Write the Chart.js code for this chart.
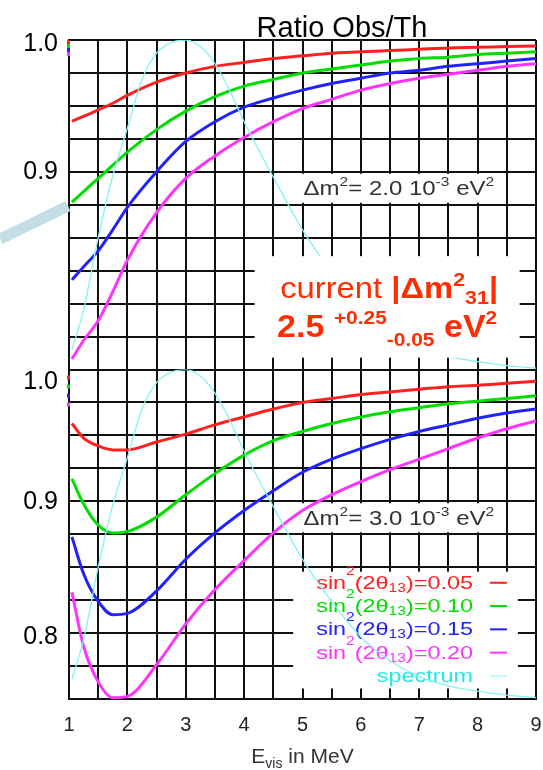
<!DOCTYPE html>
<html>
<head>
<meta charset="utf-8">
<script src="https://cdn.jsdelivr.net/npm/chart.js@4.4.1/dist/chart.umd.min.js"></script>
<style>
  html, body { margin: 0; padding: 0; background: #fff; }
  #wrap { position: relative; width: 543px; height: 770px; }
</style>
</head>
<body>
<div id="wrap"><canvas id="ratio" width="543" height="770"></canvas></div>
<script>
const energies = [1.05, 1.25, 1.5, 1.75, 2, 2.5, 3, 3.5, 4, 4.5, 5, 5.5, 6, 6.5, 7, 7.5, 8, 8.5, 9];
const sinValues = ["0.05", "0.10", "0.15", "0.20"];

// dm2 = 2.0e-3 eV2 (upper panel)
const top005 = [0.9385, 0.942, 0.947, 0.952, 0.958, 0.968, 0.975, 0.980, 0.983, 0.986, 0.988, 0.990, 0.991, 0.992, 0.993, 0.994, 0.9945, 0.995, 0.9955];
const top010 = [0.877, 0.885, 0.895, 0.905, 0.915, 0.932, 0.946, 0.957, 0.965, 0.970, 0.975, 0.978, 0.981, 0.984, 0.986, 0.987, 0.989, 0.990, 0.991];
const top015 = [0.818, 0.828, 0.840, 0.856, 0.873, 0.900, 0.923, 0.938, 0.949, 0.956, 0.962, 0.967, 0.971, 0.975, 0.977, 0.980, 0.982, 0.984, 0.986];
const top020 = [0.758, 0.772, 0.787, 0.809, 0.833, 0.869, 0.895, 0.912, 0.926, 0.938, 0.948, 0.955, 0.962, 0.967, 0.971, 0.974, 0.977, 0.980, 0.982];

// dm2 = 3.0e-3 eV2 (lower panel)
const bot005 = [0.959, 0.948, 0.942, 0.939, 0.939, 0.945, 0.951, 0.958, 0.964, 0.970, 0.975, 0.978, 0.981, 0.983, 0.985, 0.987, 0.988, 0.9895, 0.991];
const bot010 = [0.917, 0.898, 0.882, 0.876, 0.877, 0.888, 0.905, 0.921, 0.935, 0.946, 0.953, 0.959, 0.964, 0.968, 0.971, 0.974, 0.976, 0.978, 0.980];
const bot015 = [0.873, 0.845, 0.824, 0.814, 0.815, 0.832, 0.856, 0.876, 0.893, 0.908, 0.922, 0.932, 0.940, 0.947, 0.953, 0.958, 0.963, 0.967, 0.970];
const bot020 = [0.831, 0.790, 0.763, 0.751, 0.752, 0.776, 0.807, 0.833, 0.855, 0.876, 0.893, 0.905, 0.915, 0.924, 0.932, 0.940, 0.948, 0.955, 0.961];

// visible spectrum, drawn in the ratio units of each panel
const spectrumE = [1.05, 1.25, 1.5, 1.75, 2, 2.25, 2.5, 2.75, 3, 3.25, 3.5, 3.75, 4, 4.5, 5, 5.5, 6, 6.5, 7, 7.5, 8, 8.5, 9];
const spectrum = [0.765, 0.795, 0.850, 0.897, 0.933, 0.970, 0.990, 0.998, 1.0, 0.995, 0.982, 0.962, 0.938, 0.896, 0.856, 0.824, 0.797, 0.779, 0.767, 0.760, 0.756, 0.753, 0.751];

const xTickLabels = [1, 2, 3, 4, 5, 6, 7, 8, 9];
const topTickLabels = [1.0, 0.9];
const botTickLabels = [1.0, 0.9, 0.8];

const FONT = '"Liberation Sans", Arial, Helvetica, sans-serif';
const colors = ["#ff2020", "#00dd00", "#2222ff", "#ff33ff"];
const specColor = "#86f2f2";
const noteRed = "#ff2d00";

function pts(xs, ys) {
  return xs.map((x, i) => ({ x, y: ys[i] }));
}

function curve(label, ys, axis, color) {
  return {
    label,
    data: pts(energies, ys),
    yAxisID: axis,
    borderColor: color,
    borderWidth: 3,
    pointRadius: 0,
    cubicInterpolationMode: "monotone",
  };
}

function spec(axis) {
  return {
    label: "spectrum",
    data: pts(spectrumE, spectrum),
    yAxisID: axis,
    borderColor: specColor,
    borderWidth: 1.3,
    pointRadius: 0,
    cubicInterpolationMode: "monotone",
  };
}

// draws a run of text pieces (sup/sub via dy), returns width
function drawRich(ctx, parts, x, y, align, sx = 1) {
  ctx.save();
  let w = 0;
  for (const p of parts) {
    ctx.font = p.f;
    w += ctx.measureText(p.t).width;
  }
  ctx.translate(x, y);
  ctx.scale(sx, 1);
  let cx = align === "right" ? -w : align === "center" ? -w / 2 : 0;
  ctx.textAlign = "left";
  ctx.textBaseline = "alphabetic";
  for (const p of parts) {
    ctx.font = p.f;
    if (p.c) ctx.fillStyle = p.c;
    ctx.fillText(p.t, cx, p.dy || 0);
    cx += ctx.measureText(p.t).width;
  }
  ctx.restore();
  return w * sx;
}

function dmLabel(ctx, xs, ys, mant) {
  const l = xs.getPixelForValue(4.97);
  const r = xs.getPixelForValue(8.42);
  const t = ys.getPixelForValue(0.8985);
  const b = ys.getPixelForValue(0.8765);
  ctx.fillStyle = "#fff";
  ctx.fillRect(l, t, r - l, b - t);
  ctx.fillStyle = "#333";
  const f = `20px ${FONT}`, s = `13px ${FONT}`;
  drawRich(ctx, [
    { t: "\u0394m", f },
    { t: "2", f: s, dy: -9 },
    { t: "= " + mant + " 10", f },
    { t: "-3", f: s, dy: -9 },
    { t: " eV", f },
    { t: "2", f: s, dy: -9 },
  ], xs.getPixelForValue(5.0) + 1, ys.getPixelForValue(0.8875) + 7, "left", 1.2);
}

const decor = {
  id: "decor",
  beforeDatasetsDraw(chart) {
    const { ctx } = chart;
    const xs = chart.scales.x, yt = chart.scales.yTop, yb = chart.scales.yBot;
    ctx.save();
    dmLabel(ctx, xs, yt, "2.0");
    dmLabel(ctx, xs, yb, "3.0");

    // key box
    const kl = xs.getPixelForValue(4.84), kr = xs.getPixelForValue(8.69);
    const kt = yb.getPixelForValue(0.8466), kb = yb.getPixelForValue(0.758);
    ctx.fillStyle = "#fff";
    ctx.fillRect(kl, kt, kr - kl, kb - kt);
    const right = xs.getPixelForValue(7.92);
    const row0 = yb.getPixelForValue(0.8382);
    const f = `18px ${FONT}`, s = `12px ${FONT}`;
    sinValues.forEach((v, i) => {
      const y = row0 + i * 23.3;
      drawRich(ctx, [
        { t: "sin", f, c: colors[i] },
        { t: "2", f: s, dy: -14 },
        { t: "(2\u03b8", f },
        { t: "13", f: s, dy: 3 },
        { t: ")=" + v, f },
      ], right, y + 6, "right", 1.3);
      ctx.strokeStyle = colors[i];
      ctx.lineWidth = 2;
      ctx.beginPath();
      ctx.moveTo(right + 17, y);
      ctx.lineTo(right + 34, y);
      ctx.stroke();
    });
    const ys = row0 + 4 * 23.3;
    drawRich(ctx, [{ t: "spectrum", f, c: "#22e8e8" }], right, ys + 6, "right", 1.3);
    ctx.strokeStyle = specColor;
    ctx.lineWidth = 1;
    ctx.beginPath();
    ctx.moveTo(right + 17, ys);
    ctx.lineTo(right + 34, ys);
    ctx.stroke();
    ctx.restore();
  },
  afterDatasetsDraw(chart) {
    const { ctx } = chart;
    const xs = chart.scales.x, yt = chart.scales.yTop;
    ctx.save();
    // slide note box on top of the upper panel
    const l = xs.getPixelForValue(4.18), r = xs.getPixelForValue(8.72);
    const t = yt.getPixelForValue(0.836), b = yt.getPixelForValue(0.759);
    ctx.fillStyle = "#fff";
    ctx.fillRect(l, t, r - l, b - t);
    const cx = (l + r) / 2 + 2;
    drawRich(ctx, [
      { t: "current ", f: `29px ${FONT}`, c: noteRed },
      { t: "|\u0394m", f: `bold 29px ${FONT}` },
      { t: "2", f: `bold 19px ${FONT}`, dy: -12 },
      { t: "31", f: `bold 19px ${FONT}`, dy: 6 },
      { t: "|", f: `bold 29px ${FONT}` },
    ], cx, t + 42, "center", 1.13);
    drawRich(ctx, [
      { t: "2.5 ", f: `bold 31px ${FONT}`, c: noteRed },
      { t: "+0.25", f: `bold 19px ${FONT}`, dy: -13 },
      { t: "-0.05", f: `bold 19px ${FONT}`, dy: 9 },
      { t: " eV", f: `bold 31px ${FONT}` },
      { t: "2", f: `bold 19px ${FONT}`, dy: -13 },
    ], cx - 2, t + 81, "center", 1.1);
    ctx.restore();
  },
  afterDraw(chart) {
    const { ctx, chartArea } = chart;
    const xs = chart.scales.x, yt = chart.scales.yTop, yb = chart.scales.yBot;
    ctx.save();
    // y tick labels, the panel-top one sits a little lower as in the original
    ctx.fillStyle = "#000";
    ctx.font = `25px ${FONT}`;
    ctx.textAlign = "right";
    ctx.textBaseline = "middle";
    const shifts = { top: [4, 0], bot: [13, 1, 4] };
    topTickLabels.forEach((v, i) => ctx.fillText(v.toFixed(1), chartArea.left - 11, yt.getPixelForValue(v) + shifts.top[i]));
    botTickLabels.forEach((v, i) => ctx.fillText(v.toFixed(1), chartArea.left - 11, yb.getPixelForValue(v) + shifts.bot[i]));
    // title
    ctx.font = `29px ${FONT}`;
    ctx.textAlign = "center";
    ctx.textBaseline = "alphabetic";
    ctx.fillText("Ratio Obs/Th", 342, chartArea.top - 3);
    // x axis title
    ctx.fillStyle = "#333";
    drawRich(ctx, [
      { t: "E", f: `21px ${FONT}` },
      { t: "vis", f: `14px ${FONT}`, dy: 5 },
      { t: " in MeV", f: `21px ${FONT}` },
    ], (chartArea.left + chartArea.right) / 2, chartArea.bottom + 64, "center");
    // light-blue pointer from the slide
    ctx.strokeStyle = "#c2e0e3";
    ctx.lineWidth = 11;
    ctx.beginPath();
    ctx.moveTo(0, yt.getPixelForValue(0.849));
    ctx.lineTo(chartArea.left - 1, yt.getPixelForValue(0.874));
    ctx.stroke();
    // little colour marks at the left border near 1.0
    [[yt, 0], [yb, 1]].forEach(([sc, k]) => {
      const y0 = sc.getPixelForValue(1.0);
      colors.forEach((c, i) => {
        ctx.fillStyle = c;
        const yy = k === 0 ? y0 + i * 4 : y0 + 6 + i * 9;
        ctx.fillRect(chartArea.left - 2, yy, 3, 4);
      });
    });
    ctx.restore();
  },
};

const gridCol = "#111";

function yAxis() {
  return {
    type: "linear",
    position: "left",
    stack: "panels",
    stackWeight: 1,
    min: 0.75,
    max: 1.0,
    grid: { color: gridCol, lineWidth: 2, drawTicks: false },
    border: { color: gridCol, width: 2 },
    ticks: { stepSize: 0.025, autoSkip: false, display: false },
    afterFit(s) { s.width = 69; },
  };
}

new Chart(document.getElementById("ratio"), {
  type: "line",
  data: {
    datasets: [
      spec("yTop"),
      spec("yBot"),
      curve("top " + sinValues[0], top005, "yTop", colors[0]),
      curve("top " + sinValues[1], top010, "yTop", colors[1]),
      curve("top " + sinValues[2], top015, "yTop", colors[2]),
      curve("top " + sinValues[3], top020, "yTop", colors[3]),
      curve("bot " + sinValues[0], bot005, "yBot", colors[0]),
      curve("bot " + sinValues[1], bot010, "yBot", colors[1]),
      curve("bot " + sinValues[2], bot015, "yBot", colors[2]),
      curve("bot " + sinValues[3], bot020, "yBot", colors[3]),
    ],
  },
  options: {
    responsive: false,
    animation: false,
    devicePixelRatio: 1,
    layout: { padding: { left: 0, right: 7, top: 40, bottom: 0 } },
    plugins: { legend: { display: false }, tooltip: { enabled: false } },
    scales: {
      x: {
        type: "linear",
        min: 1,
        max: 9,
        position: "bottom",
        grid: { color: gridCol, lineWidth: 2, drawTicks: false },
        border: { color: gridCol, width: 2 },
        ticks: {
          stepSize: 0.5,
          autoSkip: false,
          maxRotation: 0,
          padding: 14,
          color: "#222",
          font: { family: FONT, size: 20 },
          callback: (v) => (xTickLabels.includes(v) ? String(v) : ""),
        },
        afterFit(s) {
          s.height = 71;
          s.paddingLeft = 0;
          s.paddingRight = 0;
        },
      },
      // later stacked axis is laid out on top
      yBot: yAxis(),
      yTop: yAxis(),
    },
  },
  plugins: [decor],
});
</script>
</body>
</html>
